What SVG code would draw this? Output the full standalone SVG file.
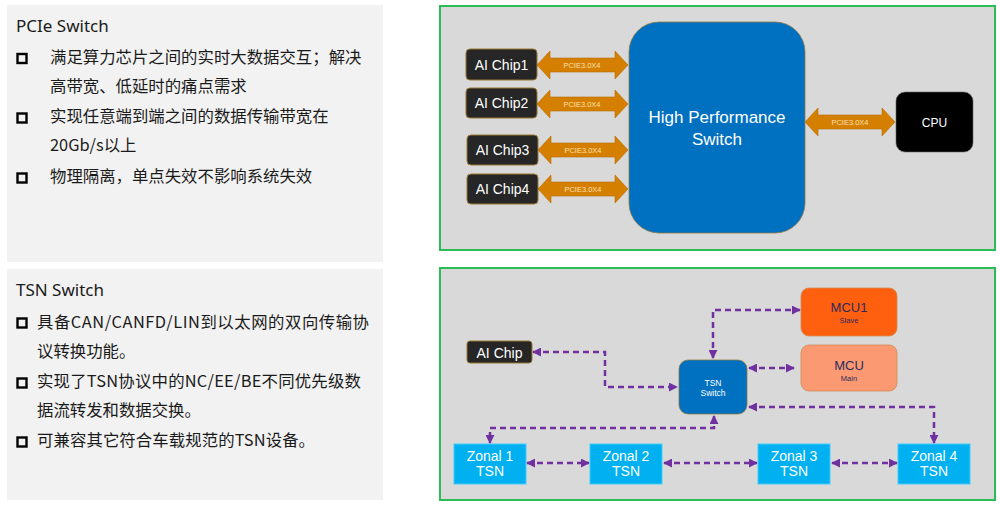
<svg xmlns="http://www.w3.org/2000/svg" width="1000" height="505" viewBox="0 0 1000 505">
<defs>
<style>
.panel{fill:#f2f2f2}
.cn{font-family:"Noto Sans CJK SC","Noto Sans",sans-serif;fill:#1a1a1a;font-size:16.4px}
.ttl{font-family:"Noto Sans","Noto Sans CJK SC",sans-serif;fill:#1a1a1a;font-size:17px}
.bul{fill:none;stroke:#000;stroke-width:2.4}
.frame{fill:#d9d9d9;stroke:#2dbb58;stroke-width:2}
.chip{fill:#262626;stroke:#9a7433;stroke-width:1}
.wt{font-family:"Liberation Sans",Arial,sans-serif;fill:#fff;text-anchor:middle}
.dk{font-family:"Liberation Sans",Arial,sans-serif;fill:#2e2a5c;text-anchor:middle}
.barrow{fill:#d47f00;stroke:#b96d00;stroke-width:0.6}
.plab{font-family:"Liberation Sans",Arial,sans-serif;fill:#fbe0b4;font-size:7.5px;text-anchor:middle}
.dash{fill:none;stroke:#7030a0;stroke-width:2.5;stroke-dasharray:6 4;marker-start:url(#ah);marker-end:url(#ah)}
.zon{fill:#00b0f0;stroke:#45cdfa;stroke-width:1}
</style>
<marker id="ah" viewBox="0 0 10 10" refX="9" refY="5" markerWidth="9" markerHeight="9" markerUnits="userSpaceOnUse" orient="auto-start-reverse">
<path d="M0,0 L10,5 L0,10 z" fill="#7030a0"/>
</marker>
</defs>
<rect width="1000" height="505" fill="#fff"/>

<!-- left text panels -->
<g id="pcie-text">
<rect class="panel" x="7" y="5" width="376" height="257"/>
<text class="ttl" x="16" y="32">PCIe Switch</text>
<rect class="bul" x="17.5" y="54" width="9" height="9"/>
<text class="cn" x="50" y="63">满足算力芯片之间的实时大数据交互；解决</text>
<text class="cn" x="50" y="92">高带宽、低延时的痛点需求</text>
<rect class="bul" x="17.5" y="113.5" width="9" height="9"/>
<text class="cn" x="50" y="122">实现任意端到端之间的数据传输带宽在</text>
<text class="cn" x="50" y="151">20Gb/s以上</text>
<rect class="bul" x="17.5" y="173.5" width="9" height="9"/>
<text class="cn" x="50" y="182">物理隔离，单点失效不影响系统失效</text>
</g>
<g id="tsn-text">
<rect class="panel" x="7" y="269" width="376" height="231"/>
<text class="ttl" x="16" y="296">TSN Switch</text>
<rect class="bul" x="17.5" y="318.5" width="9" height="9"/>
<text class="cn" x="37" y="328" textLength="332" lengthAdjust="spacing">具备CAN/CANFD/LIN到以太网的双向传输协</text>
<text class="cn" x="37" y="357">议转换功能。</text>
<rect class="bul" x="17.5" y="378.5" width="9" height="9"/>
<text class="cn" x="37" y="387" textLength="324" lengthAdjust="spacing">实现了TSN协议中的NC/EE/BE不同优先级数</text>
<text class="cn" x="37" y="416">据流转发和数据交换。</text>
<rect class="bul" x="17.5" y="437.5" width="9" height="9"/>
<text class="cn" x="37" y="446" textLength="278" lengthAdjust="spacing">可兼容其它符合车载规范的TSN设备。</text>
</g>

<!-- top diagram -->
<rect class="frame" x="440" y="6" width="555" height="244"/>
<g id="pcie-connectors">
<path class="barrow" d="M537,65 L550,51 L550,58 L615,58 L615,51 L628,65 L615,79 L615,72 L550,72 L550,79 Z"/>
<text class="plab" x="582" y="68">PCIE3.0X4</text>
<path class="barrow" d="M537,104 L550,90 L550,97 L615,97 L615,90 L628,104 L615,118 L615,111 L550,111 L550,118 Z"/>
<text class="plab" x="582" y="107">PCIE3.0X4</text>
<path class="barrow" d="M538,150 L551,136 L551,143 L615,143 L615,136 L628,150 L615,164 L615,157 L551,157 L551,164 Z"/>
<text class="plab" x="583" y="153">PCIE3.0X4</text>
<path class="barrow" d="M538,189 L551,175 L551,182 L615,182 L615,175 L628,189 L615,203 L615,196 L551,196 L551,203 Z"/>
<text class="plab" x="583" y="192">PCIE3.0X4</text>
<path class="barrow" d="M805,122 L818,108 L818,115 L882,115 L882,108 L895,122 L882,136 L882,129 L818,129 L818,136 Z"/>
<text class="plab" x="850" y="125">PCIE3.0X4</text>
</g>
<g id="ai-chip1"><rect class="chip" x="466" y="49" width="71" height="31" rx="4"/><text class="wt" x="501.5" y="70" font-size="14">AI Chip1</text></g>
<g id="ai-chip2"><rect class="chip" x="466" y="88" width="71" height="30" rx="4"/><text class="wt" x="501.5" y="108" font-size="14">AI Chip2</text></g>
<g id="ai-chip3"><rect class="chip" x="467" y="135" width="71" height="30" rx="4"/><text class="wt" x="502.5" y="155" font-size="14">AI Chip3</text></g>
<g id="ai-chip4"><rect class="chip" x="467" y="174" width="71" height="30" rx="4"/><text class="wt" x="502.5" y="194" font-size="14">AI Chip4</text></g>
<g id="hp-switch">
<rect x="629" y="22" width="176" height="211" rx="30" fill="#0070c0" stroke="#8f7a45" stroke-width="0.8"/>
<text class="wt" x="717" y="123" font-size="17">High Performance</text>
<text class="wt" x="717" y="145" font-size="17">Switch</text>
</g>
<g id="cpu"><rect x="896" y="92" width="77" height="60" rx="9" fill="#000" stroke="#666" stroke-width="0.6"/><text class="wt" x="934.5" y="127" font-size="12">CPU</text></g>

<!-- bottom diagram -->
<rect class="frame" x="440" y="268" width="555" height="232"/>
<g id="tsn-connectors">
<path class="dash" d="M533,352 H605 V387 H677"/>
<path class="dash" d="M713,358 V310 H800"/>
<path class="dash" d="M749,368 H794"/>
<path class="dash" d="M749,407 H934 V443"/>
<path class="dash" d="M714,416 V428 H490 V443"/>
<path class="dash" d="M527,463 H589"/>
<path class="dash" d="M664,463 H757"/>
<path class="dash" d="M832,463 H897"/>
</g>
<g id="ai-chip"><rect class="chip" x="467" y="341" width="65" height="22" rx="3"/><text class="wt" x="499.5" y="357.5" font-size="14">AI Chip</text></g>
<g id="tsn-switch">
<rect x="679" y="360" width="68" height="54" rx="9" fill="#0070c0" stroke="#8f7a45" stroke-width="0.8"/>
<text class="wt" x="713" y="386" font-size="8.5" fill="#dce9ff">TSN</text>
<text class="wt" x="713" y="396" font-size="8.5">Switch</text>
</g>
<g id="mcu1"><rect x="801" y="288" width="96" height="48" rx="8" fill="#ff600f" stroke="#d08a50" stroke-width="0.8"/><text class="dk" x="849" y="312" font-size="13">MCU1</text><text class="dk" x="849" y="323" font-size="7.5">Slave</text></g>
<g id="mcu"><rect x="801" y="345" width="96" height="46" rx="8" fill="#fb9a72" stroke="#d08a50" stroke-width="0.8"/><text class="dk" x="849" y="370" font-size="13">MCU</text><text class="dk" x="849" y="381" font-size="7.5">Main</text></g>
<g id="zonal1"><rect class="zon" x="454" y="444" width="72" height="40"/><text class="wt" x="490" y="461" font-size="14">Zonal 1</text><text class="wt" x="490" y="476" font-size="14">TSN</text></g>
<g id="zonal2"><rect class="zon" x="590" y="444" width="72" height="40"/><text class="wt" x="626" y="461" font-size="14">Zonal 2</text><text class="wt" x="626" y="476" font-size="14">TSN</text></g>
<g id="zonal3"><rect class="zon" x="758" y="444" width="72" height="40"/><text class="wt" x="794" y="461" font-size="14">Zonal 3</text><text class="wt" x="794" y="476" font-size="14">TSN</text></g>
<g id="zonal4"><rect class="zon" x="898" y="444" width="72" height="40"/><text class="wt" x="934" y="461" font-size="14">Zonal 4</text><text class="wt" x="934" y="476" font-size="14">TSN</text></g>
</svg>
